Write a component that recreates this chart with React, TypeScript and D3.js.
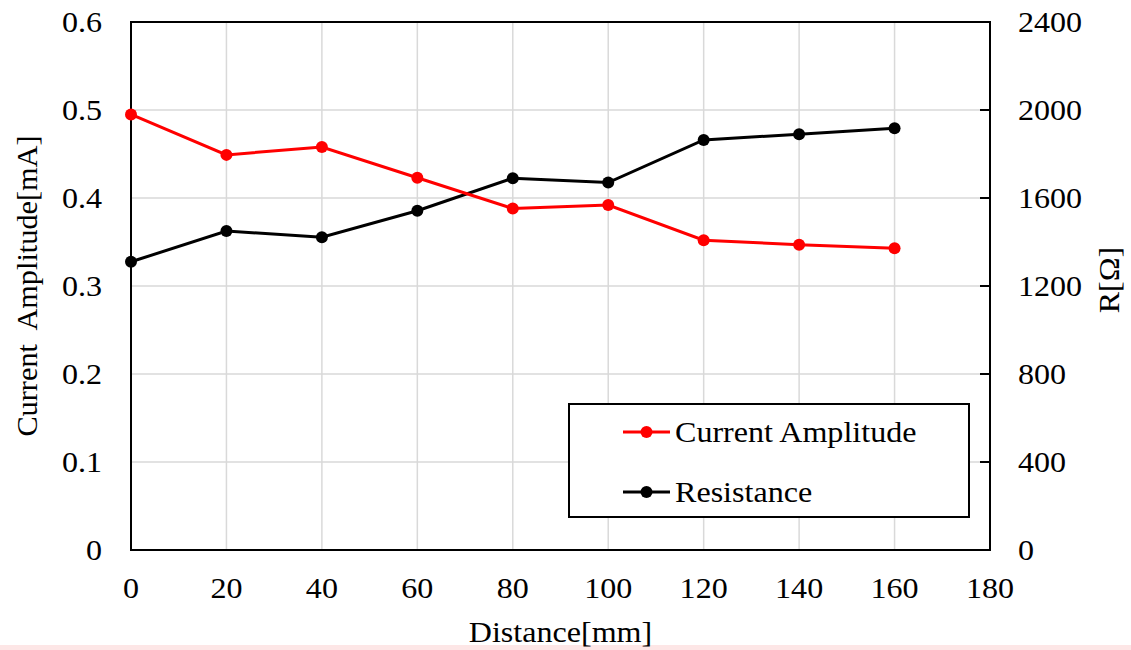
import { useMemo } from 'react';
import * as d3 from 'd3';

const distances = [0, 20, 40, 60, 80, 100, 120, 140, 160];
const currentAmplitude = [0.495, 0.449, 0.458, 0.423, 0.388, 0.392, 0.352, 0.347, 0.343];
const resistance = [1310, 1450, 1422, 1542, 1690, 1670, 1864, 1890, 1917];

const xTicks = [0, 20, 40, 60, 80, 100, 120, 140, 160, 180];
const leftTicks = [0, 0.1, 0.2, 0.3, 0.4, 0.5, 0.6];
const rightTicks = [0, 400, 800, 1200, 1600, 2000, 2400];

const seriesNames = ['Current Amplitude', 'Resistance'];
const seriesColors = ['#ff0000', '#000000'];

const FONT = '"Liberation Serif", "Times New Roman", serif';
// the source text is slightly wider than plain Times at this size
const STRETCH = 1.07;

type LabelProps = {
  x: number;
  y: number;
  anchor?: 'start' | 'middle' | 'end';
  rotate?: number;
  stretch?: number;
  children: React.ReactNode;
};

function Label({ x, y, anchor = 'start', rotate = 0, stretch = STRETCH, children }: LabelProps) {
  return (
    <text
      transform={`translate(${x},${y}) rotate(${rotate}) scale(${stretch},1)`}
      textAnchor={anchor}
      fontSize={30}
      fill="#000"
      style={{ whiteSpace: 'pre' }}
    >
      {children}
    </text>
  );
}

export default function App(): React.ReactNode {
  const width = 1131;
  const height = 650;
  const plot = { left: 131, right: 990, top: 22, bottom: 550 };

  const { x, yL, yR, currentPath, resistancePath } = useMemo(() => {
    const x = d3.scaleLinear().domain([0, 180]).range([plot.left, plot.right]);
    const yL = d3.scaleLinear().domain([0, 0.6]).range([plot.bottom, plot.top]);
    const yR = d3.scaleLinear().domain([0, 2400]).range([plot.bottom, plot.top]);
    const lineL = d3
      .line<number>()
      .x((_, i) => x(distances[i]))
      .y((d) => yL(d));
    const lineR = d3
      .line<number>()
      .x((_, i) => x(distances[i]))
      .y((d) => yR(d));
    return {
      x,
      yL,
      yR,
      currentPath: lineL(currentAmplitude) ?? '',
      resistancePath: lineR(resistance) ?? '',
    };
  }, []);

  const legend = { x: 569, y: 404, w: 400, h: 113 };

  return (
    <svg
      width={width}
      height={height}
      viewBox={`0 0 ${width} ${height}`}
      style={{ position: 'absolute', left: 0, top: 0, background: '#fff' }}
      fontFamily={FONT}
    >
      <rect x={0} y={645} width={width} height={5} fill="#fde6e6" />

      {/* grid */}
      {xTicks.slice(1, -1).map((t) => (
        <line key={'gx' + t} x1={x(t)} x2={x(t)} y1={plot.top} y2={plot.bottom} stroke="#d9d9d9" strokeWidth={1.5} />
      ))}
      {leftTicks.slice(1, -1).map((t) => (
        <line key={'gy' + t} x1={plot.left} x2={plot.right} y1={yL(t)} y2={yL(t)} stroke="#d9d9d9" strokeWidth={1.5} />
      ))}

      {/* right axis inner ticks */}
      {rightTicks.map((t) => (
        <line key={'rt' + t} x1={plot.right - 10} x2={plot.right} y1={yR(t)} y2={yR(t)} stroke="#000" strokeWidth={2} />
      ))}

      <rect
        x={plot.left}
        y={plot.top}
        width={plot.right - plot.left}
        height={plot.bottom - plot.top}
        fill="none"
        stroke="#000"
        strokeWidth={2}
      />

      {/* series */}
      <path d={resistancePath} fill="none" stroke={seriesColors[1]} strokeWidth={3} />
      {resistance.map((v, i) => (
        <circle key={'r' + i} cx={x(distances[i])} cy={yR(v)} r={6} fill={seriesColors[1]} />
      ))}
      <path d={currentPath} fill="none" stroke={seriesColors[0]} strokeWidth={3} />
      {currentAmplitude.map((v, i) => (
        <circle key={'c' + i} cx={x(distances[i])} cy={yL(v)} r={6} fill={seriesColors[0]} />
      ))}

      {/* tick labels */}
      {xTicks.map((t) => (
        <Label key={'xl' + t} x={x(t)} y={598} anchor="middle">
          {t}
        </Label>
      ))}
      {leftTicks.map((t) => (
        <Label key={'yl' + t} x={102} y={yL(t) + 10} anchor="end">
          {t === 0 ? '0' : t.toFixed(1)}
        </Label>
      ))}
      {rightTicks.map((t) => (
        <Label key={'yr' + t} x={1018} y={yR(t) + 10}>
          {t}
        </Label>
      ))}

      {/* axis titles */}
      <Label x={(plot.left + plot.right) / 2} y={642} anchor="middle">
        Distance[mm]
      </Label>
      <Label x={37} y={(plot.top + plot.bottom) / 2} anchor="middle" rotate={-90} stretch={1.01}>
        {'Current  Amplitude[mA]'}
      </Label>
      <Label x={1119} y={(plot.top + plot.bottom) / 2 - 6} anchor="middle" rotate={-90}>
        R[Ω]
      </Label>

      {/* legend */}
      <rect x={legend.x} y={legend.y} width={legend.w} height={legend.h} fill="#fff" stroke="#000" strokeWidth={2} />
      {seriesNames.map((name, i) => {
        const cy = 432 + i * 60;
        return (
          <g key={name}>
            <line x1={623} x2={670} y1={cy} y2={cy} stroke={seriesColors[i]} strokeWidth={3} />
            <circle cx={646.5} cy={cy} r={6} fill={seriesColors[i]} />
            <Label x={675} y={cy + 10}>
              {name}
            </Label>
          </g>
        );
      })}
    </svg>
  );
}
